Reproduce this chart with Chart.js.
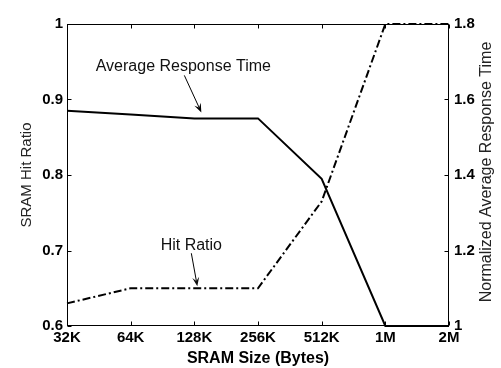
<!DOCTYPE html>
<html>
<head>
<meta charset="utf-8">
<script src="https://cdn.jsdelivr.net/npm/chart.js@4.4.1/dist/chart.umd.min.js"></script>
<style>
  html, body { margin: 0; padding: 0; background: #fff; }
  canvas { display: block; }
</style>
</head>
<body>
<canvas id="chart" width="501" height="368"></canvas>
<script>
const FONT = "'Liberation Sans', Arial, Helvetica, sans-serif";

// values
const sizes = ["32K", "64K", "128K", "256K", "512K", "1M", "2M"];
const hitRatio = [0.63, 0.65, 0.65, 0.65, 0.765, 1.0, 1.0];
const responseTime = [1.57, 1.56, 1.55, 1.55, 1.39, 1.0, 1.0];
const hitTicks = [0.6, 0.7, 0.8, 0.9, 1];
const respTicks = [1, 1.2, 1.4, 1.6, 1.8];

// text + arrow callouts, anchored on a data point (offsets in px)
const notes = [
  { text: "Average Response Time", dataset: 0, idx: 2, tip: [7, -6], tail: [-10, -43], label: [-11, -52] },
  { text: "Hit Ratio", dataset: 1, idx: 2, tip: [3, -2], tail: [-3, -35], label: [-3, -43] },
];

const fmt = (v) => String(+v.toFixed(1));

function drawArrow(ctx, x0, y0, x1, y1) {
  const a = Math.atan2(y1 - y0, x1 - x0);
  const c = Math.cos(a), s = Math.sin(a);
  const len = 9, w = 3.5;
  ctx.beginPath();
  ctx.moveTo(x0, y0);
  ctx.lineTo(x1 - c * len * 0.6, y1 - s * len * 0.6);
  ctx.stroke();
  ctx.beginPath();
  ctx.moveTo(x1, y1);
  ctx.lineTo(x1 - len * c + w * s, y1 - len * s - w * c);
  ctx.lineTo(x1 - 0.6 * len * c, y1 - 0.6 * len * s);
  ctx.lineTo(x1 - len * c - w * s, y1 - len * s + w * c);
  ctx.closePath();
  ctx.fill();
}

const framePlugin = {
  id: "frame",
  afterDraw(chart) {
    const { ctx, chartArea: a, scales } = chart;
    const L = a.left + 0.5, R = a.right - 0.5, T = a.top + 0.5, B = a.bottom - 0.5;
    const tk = 4;
    ctx.save();
    ctx.strokeStyle = "#000";
    ctx.lineWidth = 1;
    ctx.strokeRect(L, T, R - L, B - T);
    ctx.beginPath();
    sizes.forEach((_, i) => {
      const x = Math.round(scales.x.getPixelForValue(i)) + 0.5;
      ctx.moveTo(x, B); ctx.lineTo(x, B - tk);
      ctx.moveTo(x, T); ctx.lineTo(x, T + tk);
    });
    hitTicks.forEach((v) => {
      const y = Math.round(scales.y.getPixelForValue(v)) + 0.5;
      ctx.moveTo(L, y); ctx.lineTo(L + tk, y);
    });
    respTicks.forEach((v) => {
      const y = Math.round(scales.y1.getPixelForValue(v)) + 0.5;
      ctx.moveTo(R, y); ctx.lineTo(R - tk, y);
    });
    ctx.stroke();

    // right axis title reads bottom-to-top
    ctx.fillStyle = "#222";
    ctx.font = "16px " + FONT;
    ctx.textAlign = "center";
    ctx.textBaseline = "middle";
    ctx.save();
    ctx.translate(487, (a.top + a.bottom) / 2 - 3);
    ctx.rotate(-Math.PI / 2);
    ctx.fillText("Normalized Average Response Time", 0, 0);
    ctx.restore();

    // callouts
    ctx.lineWidth = 1;
    ctx.strokeStyle = "#000";
    ctx.fillStyle = "#000";
    notes.forEach((n) => {
      const pt = chart.getDatasetMeta(n.dataset).data[n.idx];
      const px = pt.x, py = pt.y;
      drawArrow(ctx, px + n.tail[0], py + n.tail[1], px + n.tip[0], py + n.tip[1]);
      ctx.fillStyle = "#111";
      ctx.fillText(n.text, px + n.label[0], py + n.label[1]);
    });
    ctx.restore();
  },
};

new Chart(document.getElementById("chart"), {
  type: "line",
  data: {
    labels: sizes,
    datasets: [
      {
        label: "Average Response Time",
        data: responseTime,
        yAxisID: "y1",
        borderColor: "#000",
        borderWidth: 2,
        pointRadius: 0,
        tension: 0,
        fill: false,
        clip: false,
      },
      {
        label: "Hit Ratio",
        data: hitRatio,
        yAxisID: "y",
        borderColor: "#000",
        borderWidth: 2,
        borderDash: [8, 3, 2, 3],
        pointRadius: 0,
        tension: 0,
        fill: false,
        clip: false,
      },
    ],
  },
  options: {
    responsive: false,
    animation: false,
    layout: { padding: { top: 24, left: 0, right: 0, bottom: 0 } },
    plugins: {
      legend: { display: false },
      tooltip: { enabled: false },
    },
    scales: {
      x: {
        offset: false,
        grid: { display: false, drawTicks: false },
        border: { display: false },
        ticks: {
          color: "#000",
          font: { family: FONT, size: 15, weight: "bold" },
          padding: 3,
          maxRotation: 0,
          autoSkip: false,
        },
        title: {
          display: true,
          text: "SRAM Size (Bytes)",
          color: "#000",
          font: { family: FONT, size: 16, weight: "bold" },
          padding: { top: 0, bottom: 0 },
        },
        afterFit: (s) => { s.height = 42; },
      },
      y: {
        position: "left",
        min: 0.6,
        max: 1,
        afterBuildTicks: (s) => { s.ticks = hitTicks.map((v) => ({ value: v })); },
        grid: { display: false, drawTicks: false },
        border: { display: false },
        ticks: {
          color: "#000",
          font: { family: FONT, size: 15, weight: "bold" },
          padding: 4,
          callback: fmt,
        },
        title: {
          display: true,
          text: "SRAM Hit Ratio",
          color: "#222",
          font: { family: FONT, size: 15 },
          padding: { top: 18, bottom: 0 },
        },
        afterFit: (s) => { s.width = 67; },
      },
      y1: {
        position: "right",
        min: 1,
        max: 1.8,
        afterBuildTicks: (s) => { s.ticks = respTicks.map((v) => ({ value: v })); },
        grid: { display: false, drawTicks: false },
        border: { display: false },
        ticks: {
          color: "#000",
          font: { family: FONT, size: 15, weight: "bold" },
          padding: 5,
          callback: fmt,
        },
        afterFit: (s) => { s.width = 52; },
      },
    },
  },
  plugins: [framePlugin],
});
</script>
</body>
</html>
